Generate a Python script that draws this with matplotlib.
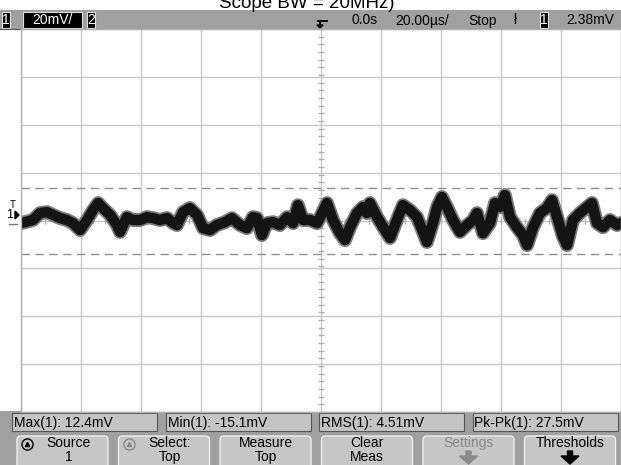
import numpy as np
import matplotlib
matplotlib.use("Agg")
import matplotlib.pyplot as plt
from matplotlib.patches import Rectangle, FancyBboxPatch, Polygon

# time (us) and trace centre (mV)
t_us = [-100, -98.7, -96, -93.7, -91.3, -89.3, -87, -84.7, -82.7, -80.3,
        -78, -76, -74.3, -72.7, -70.3, -68, -67, -64.7, -62.7, -60.3,
        -58, -56, -53.7, -51.3, -49.3, -48, -46, -43.7, -41.3, -39.3,
        -37, -34.7, -32, -29.7, -27, -24.7, -22.7, -21.3, -19.7, -18,
        -16, -13.7, -11.3, -9.3, -7.7, -6, -3.7, -1.3, -0.3, 2,
        4, 6.3, 8, 9.7, 12, 14, 15.3, 16.3, 18.7, 20.7,
        23, 25.3, 27.3, 29.7, 32, 34, 35.3, 37.3, 38.7, 40.3,
        42, 44, 46.3, 48.7, 50.7, 52, 54, 56.3, 58, 59.7,
        61.3, 63, 65.3, 67.3, 68.7, 70.7, 73, 75.3, 77, 78.7,
        80.7, 82, 84, 86.3, 88.7, 90.3, 92, 94, 96.3, 98.7, 100]
v_mv = [-2.1, -1.7, -0.8, 2.1, 2.5, 1.3, 0, -0.8, -2.1, -5.0,
        -0.8, 3.3, 6.3, 4.2, 1.3, -2.9, -5.8, 0.4, -0.8, -0.8,
        0.4, 0, -0.8, 0, -2.1, -2.9, 2.5, 4.2, 1.3, -4.2,
        -5.0, -2.9, -1.7, 0, -2.9, -4.2, 0.4, 0, -7.1, -2.1,
        -1.7, -2.9, 0.4, -2.1, 5.4, -0.8, -0.8, -2.1, 0.4, 6.3,
        -0.8, -6.3, -9.2, -3.8, 2.1, 4.6, 2.1, 6.3, 0.4, -3.8,
        -8.3, -0.8, 5.4, 3.3, 0.4, -5.8, -10.0, -2.1, 4.6, 8.8,
        4.6, -0.8, -5.8, -2.9, -0.8, 2.1, -6.3, -2.1, 6.3, 4.6,
        9.6, 0.4, -3.8, -7.1, -11.3, -3.8, 2.1, 4.2, 7.5, 0.4,
        -7.9, -11.3, -0.8, 2.1, 4.6, 6.3, -2.1, -3.8, -0.8, -2.9, -2.1]

max_mv = 12.4
min_mv = -15.1
meas_labels = ["Max(1): 12.4mV", "Min(1): -15.1mV", "RMS(1): 4.51mV", "Pk-Pk(1): 27.5mV"]
softkeys = [("Source", "1"), ("Select:", "Top"), ("Measure", "Top"),
            ("Clear", "Meas"), ("Settings", ""), ("Thresholds", "")]

FONT = ["Liberation Sans Narrow", "Liberation Sans", "DejaVu Sans"]
BAR = "#a0a0a0"
KEY = "#c6c6c6"

fig = plt.figure(figsize=(6.21, 4.65), dpi=100)

# chrome drawn in pixel coordinates
bg = fig.add_axes([0, 0, 1, 1])
bg.set_xlim(0, 621)
bg.set_ylim(465, 0)
bg.axis("off")

bg.text(307, 8.5, "Scope BW = 20MHz)", ha="center", va="baseline",
        fontsize=13.5, family=["Liberation Sans", "DejaVu Sans"])

# status bar
bg.add_patch(Rectangle((0, 10), 621, 19, color=BAR, lw=0))
bg.plot([0, 621], [29, 29], color="#555555", lw=0.8)
for x0, w, s in [(2, 8, "1"), (23, 59, "20mV/"), (87, 8, "2")]:
    bg.add_patch(Rectangle((x0, 12), w, 16, facecolor="black", edgecolor="#dddddd", lw=0.8))
    bg.text(x0 + w / 2, 20.5, s, color="white", ha="center", va="center", fontsize=10, family=FONT)
bg.add_patch(Rectangle((540, 12), 8, 16, facecolor="black", edgecolor="#dddddd", lw=0.8))
bg.text(544, 20.5, "1", color="white", ha="center", va="center", fontsize=10, family=FONT)
for x, s in [(365, "0.0s"), (422, "20.00\u00b5s/"), (483, "Stop"), (516, "\u0142"), (590, "2.38mV")]:
    bg.text(x, 20.5, s, ha="center", va="center", fontsize=10, family=FONT)
# trigger position marker
bg.plot([318, 327], [21, 21], color="black", lw=1.3)
bg.plot([320, 320], [21, 26], color="black", lw=1.3)
bg.add_patch(Polygon([[317, 25], [323, 25], [320, 28]], color="black"))
bg.add_patch(Polygon([[317, 29], [325, 29], [321, 34]], color="#999999"))

# ground marker
bg.text(13, 205, "T", ha="center", va="center", fontsize=7, family=FONT)
bg.text(10, 215, "1", ha="center", va="center", fontsize=9, family=FONT)
bg.add_patch(Polygon([[15, 211], [19, 215], [15, 219]], color="black"))
bg.plot([9, 17], [224, 224], color="#777777", lw=1)

# measurement line
bg.add_patch(Rectangle((0, 411), 621, 54, color=BAR, lw=0))
for i, s in enumerate(meas_labels):
    x0 = 12 + i * 153.5
    bg.add_patch(Rectangle((x0, 413), 145, 18, facecolor="#c4c4c4", edgecolor="#555555", lw=0.8))
    bg.text(x0 + 2, 422.5, s, ha="left", va="center", fontsize=10, family=FONT)

# softkeys
for i, (a, b) in enumerate(softkeys):
    x0 = 17 + i * 101.5
    bg.add_patch(FancyBboxPatch((x0, 436), 91, 34, boxstyle="round,pad=0,rounding_size=4",
                                facecolor=KEY, edgecolor="#eeeeee", lw=1))
    col = "#8a8a8a" if a == "Settings" else "black"
    cx = x0 + 45.5
    if a in ("Source", "Select:"):
        cx += 6
        ring = "black" if a == "Source" else "#8a8a8a"
        bg.plot(x0 + 10, 444, marker="o", ms=8, mfc="none", mec=ring, mew=1)
        bg.plot(x0 + 10, 444, marker="^", ms=3, color=ring)
    bg.text(cx, 443, a, ha="center", va="center", fontsize=10, color=col, family=FONT)
    if b:
        bg.text(cx, 457, b, ha="center", va="center", fontsize=10, color=col, family=FONT)
    if a in ("Settings", "Thresholds"):
        bg.add_patch(Polygon([[cx - 2.5, 451], [cx + 2.5, 451], [cx + 2.5, 456], [cx + 9, 456],
                              [cx, 464], [cx - 9, 456], [cx - 2.5, 456]], color=col))

# graticule
ax = fig.add_axes([21 / 621, 53 / 465, 600 / 621, 383 / 465])
y0 = -1.0
ax.set_xlim(-100, 100)
ax.set_ylim(y0 - 80, y0 + 80)
ax.set_xticks(np.arange(-100, 101, 20))
ax.set_yticks(y0 + np.arange(-80, 81, 20))
ax.grid(True, color="#c8c8c8", lw=1)
ax.tick_params(length=0, labelbottom=False, labelleft=False)
for sp in ax.spines.values():
    sp.set_color("#b0b0b0")
    sp.set_linewidth(1)

mx = np.arange(-100, 101, 4)
ax.plot(np.zeros_like(mx) + 0, y0 + mx * 0.8, ls="none", marker="_", ms=4, color="#b0b0b0")
ax.plot(mx, np.zeros_like(mx) + y0, ls="none", marker="|", ms=4, color="#b0b0b0")

for lvl in (max_mv, min_mv):
    ax.axhline(lvl, color="#909090", lw=1, dashes=(6, 4))

ax.plot(t_us, v_mv, color="#7a7a7a", lw=10, solid_joinstyle="round")
ax.plot(t_us, v_mv, color="#141414", lw=7.5, solid_joinstyle="round")

fig.savefig("out.png", dpi=100)
